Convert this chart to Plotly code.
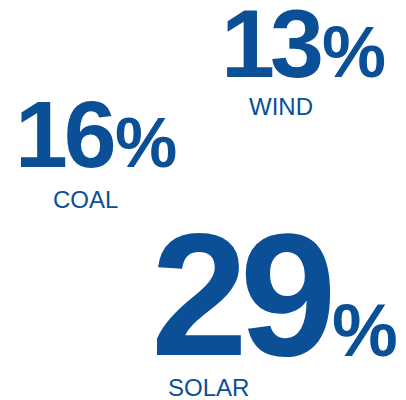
import plotly.graph_objects as go

# Data
sources = ["WIND", "COAL", "SOLAR"]
shares = [13, 16, 29]

# Layout config (pixel positions in a 406x400 canvas)
W, H = 406, 400
COLOR = "#0B4F96"
FONT = "Liberation Sans"
layout_cfg = {
    "WIND":  dict(nx=315, base=70,  nsize=97,  psize=72, lx=239, lbase=107, ls=-5),
    "COAL":  dict(nx=108, base=160, nsize=95,  psize=70, lx=43,  lbase=200, ls=-4),
    "SOLAR": dict(nx=325, base=349, nsize=174, psize=74, lx=158, lbase=388, ls=-8),
}
LABEL_SIZE = 24
PCT_GAP = -3

fig = go.Figure()
ann = []
def px(x):
    return x / W
def py(y):
    return 1 - y / H

for src, val in zip(sources, shares):
    c = layout_cfg[src]
    ann.append(dict(text=f"<span style='letter-spacing:{c['ls']}px'><b>{val}</b></span>",
                    x=px(c["nx"]), y=py(c["base"] - 0.36 * c["nsize"]),
                    xref="paper", yref="paper", xanchor="right", yanchor="middle",
                    showarrow=False, font=dict(family=FONT, size=c["nsize"], color=COLOR)))
    ann.append(dict(text="<b>%</b>", x=px(c["nx"] + PCT_GAP), y=py(c["base"] - 0.36 * c["psize"]),
                    xref="paper", yref="paper", xanchor="left", yanchor="middle",
                    showarrow=False, font=dict(family=FONT, size=c["psize"], color=COLOR)))
    ann.append(dict(text=src, x=px(c["lx"]), y=py(c["lbase"] - 0.36 * LABEL_SIZE),
                    xref="paper", yref="paper", xanchor="left", yanchor="middle",
                    showarrow=False, font=dict(family=FONT, size=LABEL_SIZE, color=COLOR)))

fig.update_layout(
    width=W, height=H,
    margin=dict(l=0, r=0, t=0, b=0),
    paper_bgcolor="white", plot_bgcolor="white",
    xaxis=dict(visible=False), yaxis=dict(visible=False),
    annotations=ann,
    showlegend=False,
)
fig.write_html("out.html")
